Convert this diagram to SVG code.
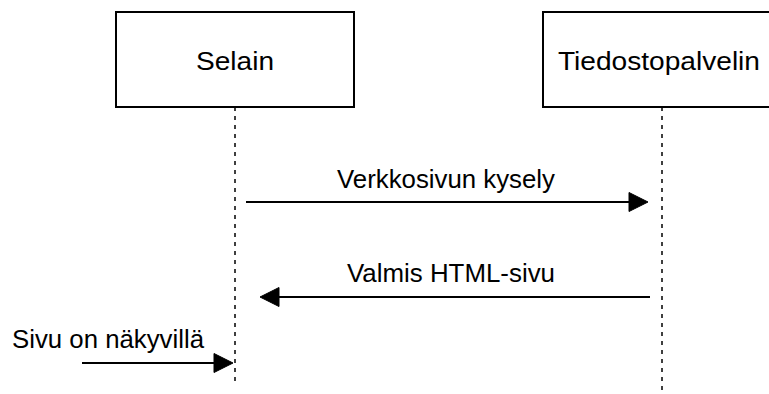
<svg xmlns="http://www.w3.org/2000/svg" width="769" height="394" viewBox="0 0 769 394">
  <style>
    .box { fill: #ffffff; stroke: #000000; stroke-width: 2; }
    .life { stroke: #000000; stroke-width: 1.5; stroke-dasharray: 4 5; fill: none; }
    .msg { stroke: #000000; stroke-width: 2; fill: none; }
    .head { fill: #000000; stroke: #000000; stroke-width: 1; }
    text { font-family: "Liberation Sans", Arial, sans-serif; font-size: 26px; fill: #000000; }
  </style>
  <rect width="769" height="394" fill="#ffffff"/>

  <g id="selain">
    <rect class="box" x="116" y="12" width="238" height="95"/>
    <text x="235" y="70" text-anchor="middle" textLength="78" lengthAdjust="spacingAndGlyphs">Selain</text>
    <line class="life" x1="235" y1="107" x2="235" y2="383"/>
  </g>

  <g id="tiedostopalvelin">
    <rect class="box" x="543" y="12" width="238" height="95"/>
    <text x="659" y="70" text-anchor="middle" textLength="202" lengthAdjust="spacingAndGlyphs">Tiedostopalvelin</text>
    <line class="life" x1="662" y1="107" x2="662" y2="392"/>
  </g>

  <g id="connectors">
    <!-- request -->
    <line class="msg" x1="246" y1="202" x2="630" y2="202"/>
    <polygon class="head" points="648,202 629,192.5 629,211.5"/>
    <text x="446" y="188" text-anchor="middle" textLength="218" lengthAdjust="spacingAndGlyphs">Verkkosivun kysely</text>

    <!-- response -->
    <line class="msg" x1="650" y1="297" x2="278" y2="297"/>
    <polygon class="head" points="260,297 279,287.5 279,306.5"/>
    <text x="451" y="282" text-anchor="middle" textLength="208" lengthAdjust="spacingAndGlyphs">Valmis HTML-sivu</text>

    <!-- page shown -->
    <line class="msg" x1="82" y1="363" x2="215" y2="363"/>
    <polygon class="head" points="233,363 214,353.5 214,372.5"/>
    <text x="12" y="348" textLength="192" lengthAdjust="spacingAndGlyphs">Sivu on näkyvillä</text>
  </g>
</svg>
